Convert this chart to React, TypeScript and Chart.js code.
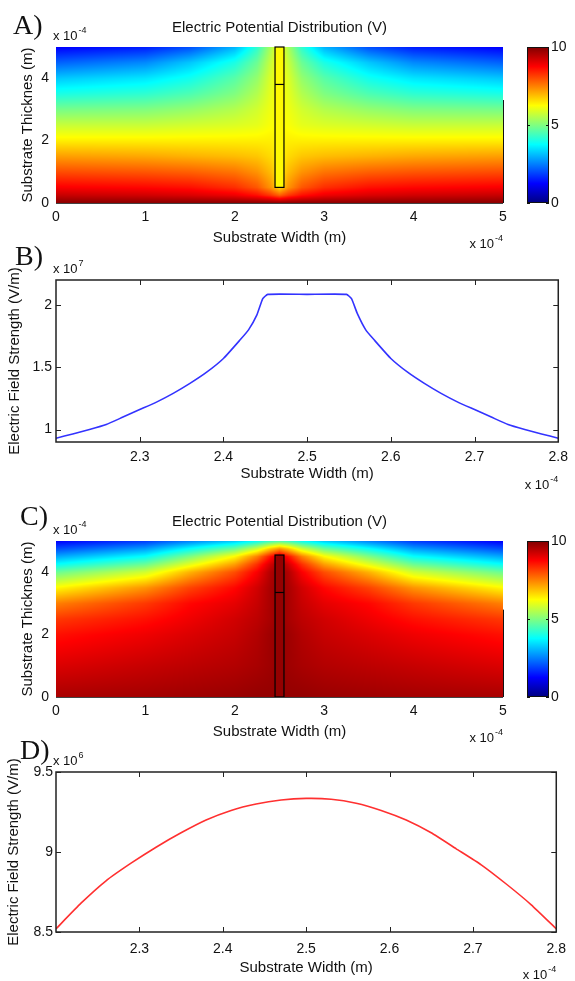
import React, { useEffect, useRef } from "react";
import { Chart, registerables } from "chart.js";

Chart.register(...registerables);

const SANS = "'Liberation Sans', Arial, Helvetica, sans-serif";
const SERIF = "'Liberation Serif', 'Times New Roman', serif";
const INK = "#111111";

// ---------- Panels A and C: potential maps (x, y in 1e-4 m; values in V)
const mapXTicks = [0, 1, 2, 3, 4, 5];
const mapYTicks = [0, 2, 4];
const colorbarTicks = [0, 5, 10];
const potGridX = [0, 1, 1.5, 2, 2.25, 2.4, 2.5, 2.6, 2.75, 3, 3.5, 4, 5];

const potAY = [5, 4.5, 4, 3.5, 3, 2.5, 2, 1.5, 1, 0.5, 0.25, 0];
const potA = [
  [1.2, 1.5, 2.0, 3.0, 4.2, 5.4, 6.3, 5.4, 4.2, 3.0, 2.0, 1.5, 1.2],
  [2.2, 2.6, 3.2, 4.0, 4.8, 5.7, 6.3, 5.7, 4.8, 4.0, 3.2, 2.6, 2.2],
  [3.2, 3.5, 3.9, 4.6, 5.2, 5.9, 6.3, 5.9, 5.2, 4.6, 3.9, 3.5, 3.2],
  [4.0, 4.2, 4.5, 5.0, 5.5, 6.0, 6.3, 6.0, 5.5, 5.0, 4.5, 4.2, 4.0],
  [4.9, 5.0, 5.2, 5.5, 5.8, 6.1, 6.3, 6.1, 5.8, 5.5, 5.2, 5.0, 4.9],
  [5.7, 5.7, 5.8, 5.9, 6.0, 6.2, 6.3, 6.2, 6.0, 5.9, 5.8, 5.7, 5.7],
  [6.4, 6.4, 6.4, 6.4, 6.4, 6.4, 6.3, 6.4, 6.4, 6.4, 6.4, 6.4, 6.4],
  [7.2, 7.1, 7.0, 6.9, 6.8, 6.6, 6.3, 6.6, 6.8, 6.9, 7.0, 7.1, 7.2],
  [8.0, 7.9, 7.8, 7.6, 7.3, 6.9, 6.4, 6.9, 7.3, 7.6, 7.8, 7.9, 8.0],
  [8.8, 8.7, 8.6, 8.3, 7.9, 7.3, 6.6, 7.3, 7.9, 8.3, 8.6, 8.7, 8.8],
  [9.3, 9.2, 9.1, 8.9, 8.6, 8.2, 7.8, 8.2, 8.6, 8.9, 9.1, 9.2, 9.3],
  [9.9, 9.9, 9.9, 9.9, 9.9, 9.9, 9.9, 9.9, 9.9, 9.9, 9.9, 9.9, 9.9],
];
const electrodeAX = [2.45, 2.55];
const electrodeAY = [0.5, 3.8, 5];
const electrodeAV = 6.3;
const edgeLineA = 3.3;

const potCY = [5, 4.75, 4.5, 4.25, 4, 3.5, 3, 2.5, 2, 1, 0];
const potC = [
  [1.2, 1.8, 2.5, 3.2, 3.8, 4.3, 4.5, 4.3, 3.8, 3.2, 2.5, 1.8, 1.2],
  [2.0, 2.8, 3.8, 4.8, 5.8, 6.8, 7.3, 6.8, 5.8, 4.8, 3.8, 2.8, 2.0],
  [2.9, 3.8, 5.0, 6.3, 7.5, 8.6, 9.3, 8.6, 7.5, 6.3, 5.0, 3.8, 2.9],
  [3.8, 4.8, 6.0, 7.2, 8.3, 9.2, 9.7, 9.2, 8.3, 7.2, 6.0, 4.8, 3.8],
  [4.8, 5.8, 7.0, 8.0, 8.8, 9.5, 9.8, 9.5, 8.8, 8.0, 7.0, 5.8, 4.8],
  [6.3, 7.3, 8.1, 8.7, 9.2, 9.6, 9.8, 9.6, 9.2, 8.7, 8.1, 7.3, 6.3],
  [7.5, 8.2, 8.7, 9.0, 9.3, 9.6, 9.8, 9.6, 9.3, 9.0, 8.7, 8.2, 7.5],
  [8.2, 8.6, 8.9, 9.2, 9.4, 9.6, 9.8, 9.6, 9.4, 9.2, 8.9, 8.6, 8.2],
  [8.6, 8.9, 9.1, 9.3, 9.5, 9.7, 9.8, 9.7, 9.5, 9.3, 9.1, 8.9, 8.6],
  [9.1, 9.3, 9.4, 9.5, 9.6, 9.7, 9.8, 9.7, 9.6, 9.5, 9.4, 9.3, 9.1],
  [9.6, 9.65, 9.7, 9.75, 9.8, 9.8, 9.8, 9.8, 9.8, 9.75, 9.7, 9.65, 9.6],
];
const electrodeCX = [2.45, 2.55];
const electrodeCY = [0, 3.35, 4.55];
const electrodeCV = 9.8;
const edgeLineC = 2.8;

// ---------- Panels B and D: field strength along the width (x in 1e-4 m)
const lineXTicks = [2.3, 2.4, 2.5, 2.6, 2.7, 2.8];

const fieldBX = [2.2, 2.22, 2.24, 2.26, 2.28, 2.3, 2.32, 2.34, 2.36, 2.38, 2.4, 2.42, 2.43, 2.44, 2.447, 2.453,
  2.5, 2.547, 2.553, 2.56, 2.57, 2.58, 2.6, 2.62, 2.64, 2.66, 2.68, 2.7, 2.72, 2.74, 2.76, 2.78, 2.8];
const fieldBY = [0.93, 0.965, 1.0, 1.04, 1.1, 1.16, 1.22, 1.29, 1.37, 1.46, 1.57, 1.72, 1.8, 1.92, 2.05, 2.085,
  2.085, 2.085, 2.05, 1.93, 1.8, 1.72, 1.57, 1.46, 1.37, 1.29, 1.22, 1.16, 1.1, 1.04, 1.0, 0.965, 0.93];
const fieldBTicks = [1, 1.5, 2];

const fieldDX = [2.2, 2.23, 2.26, 2.29, 2.32, 2.35, 2.38, 2.41, 2.44, 2.47, 2.5, 2.53, 2.56, 2.59, 2.62, 2.65,
  2.68, 2.71, 2.74, 2.77, 2.8];
const fieldDY = [8.52, 8.68, 8.82, 8.93, 9.03, 9.12, 9.2, 9.26, 9.3, 9.325, 9.335, 9.33, 9.305, 9.26, 9.2, 9.12,
  9.02, 8.92, 8.8, 8.67, 8.52];
const fieldDTicks = [8.5, 9, 9.5];

// ---------- helpers
function jet(v: number): [number, number, number] {
  const t = Math.max(0, Math.min(1, v / 10));
  const c = (z: number) => Math.round(255 * Math.max(0, Math.min(1, z)));
  return [c(1.5 - Math.abs(4 * t - 3)), c(1.5 - Math.abs(4 * t - 2)), c(1.5 - Math.abs(4 * t - 1))];
}
function jetCss(v: number) {
  const [r, g, b] = jet(v);
  return `rgb(${r},${g},${b})`;
}
function locate(arr: number[], v: number): [number, number] {
  for (let i = 0; i < arr.length - 1; i++) {
    const a = arr[i], b = arr[i + 1];
    if ((v - a) * (v - b) <= 0) return [i, b === a ? 0 : (v - a) / (b - a)];
  }
  const asc = arr[arr.length - 1] > arr[0];
  const last = arr[arr.length - 1];
  const beyond = asc ? v > last : v < last;
  return beyond ? [arr.length - 2, 1] : [0, 0];
}

function drawMultiplier(ctx: CanvasRenderingContext2D, x: number, baseline: number, exp: string, alignRight: boolean) {
  ctx.save();
  ctx.fillStyle = INK;
  ctx.textBaseline = "alphabetic";
  ctx.textAlign = "left";
  ctx.font = `13px ${SANS}`;
  const base = "x 10";
  const wb = ctx.measureText(base).width;
  ctx.font = `9px ${SANS}`;
  const we = ctx.measureText(exp).width;
  const start = alignRight ? x - wb - we - 1 : x;
  ctx.font = `13px ${SANS}`;
  ctx.fillText(base, start, baseline);
  ctx.font = `9px ${SANS}`;
  ctx.fillText(exp, start + wb + 1, baseline - 7);
  ctx.restore();
}

function panelText(letter: string, lx: number, ly: number, title: string | null, yExp: string, xExp: string, xGap: number) {
  return {
    id: "panelText",
    afterDraw(chart: any) {
      const { ctx, chartArea: a } = chart;
      ctx.save();
      ctx.fillStyle = INK;
      ctx.font = `28px ${SERIF}`;
      ctx.textAlign = "left";
      ctx.textBaseline = "alphabetic";
      ctx.fillText(letter, lx, ly);
      if (title) {
        ctx.font = `15px ${SANS}`;
        ctx.textAlign = "center";
        ctx.textBaseline = "middle";
        ctx.fillText(title, (a.left + a.right) / 2, a.top - 19);
      }
      ctx.restore();
      drawMultiplier(ctx, a.left - 3, a.top - 7, yExp, false);
      drawMultiplier(ctx, a.right, a.bottom + xGap, xExp, true);
    },
  };
}

function mapPlugin(gx: number[], gy: number[], grid: number[][], ex: number[], ey: number[], ev: number, edgeFrom: number) {
  return {
    id: "potentialMap",
    beforeDatasetsDraw(chart: any) {
      const { ctx, chartArea: a, scales } = chart;
      const xs = scales.x, ys = scales.y;
      const left = Math.round(a.left), top = Math.round(a.top);
      const w = Math.round(a.right) - left, h = Math.round(a.bottom) - top;
      const off = document.createElement("canvas");
      off.width = w;
      off.height = h;
      const octx = off.getContext("2d")!;
      const img = octx.createImageData(w, h);
      const cols: [number, number][] = [];
      for (let i = 0; i < w; i++) cols.push(locate(gx, xs.getValueForPixel(left + i + 0.5)));
      for (let j = 0; j < h; j++) {
        const [r, fy] = locate(gy, ys.getValueForPixel(top + j + 0.5));
        const r0 = grid[r], r1 = grid[r + 1];
        for (let i = 0; i < w; i++) {
          const [c, fx] = cols[i];
          const v = (1 - fy) * ((1 - fx) * r0[c] + fx * r0[c + 1]) + fy * ((1 - fx) * r1[c] + fx * r1[c + 1]);
          const [R, G, B] = jet(v);
          const k = (j * w + i) * 4;
          img.data[k] = R;
          img.data[k + 1] = G;
          img.data[k + 2] = B;
          img.data[k + 3] = 255;
        }
      }
      octx.putImageData(img, 0, 0);
      ctx.drawImage(off, left, top);

      // electrode
      const x0 = xs.getPixelForValue(ex[0]), x1 = xs.getPixelForValue(ex[1]);
      const yb = ys.getPixelForValue(ey[0]), ym = ys.getPixelForValue(ey[1]), yt = ys.getPixelForValue(ey[2]);
      ctx.save();
      ctx.fillStyle = jetCss(ev);
      ctx.fillRect(x0, yt, x1 - x0, yb - yt);
      ctx.strokeStyle = "#000";
      ctx.lineWidth = 1.2;
      ctx.strokeRect(x0, yt, x1 - x0, yb - yt);
      ctx.beginPath();
      ctx.moveTo(x0, ym);
      ctx.lineTo(x1, ym);
      ctx.stroke();
      // axis line at bottom and partial right edge
      ctx.strokeStyle = "#444";
      ctx.lineWidth = 1;
      ctx.beginPath();
      ctx.moveTo(a.left, a.bottom + 0.5);
      ctx.lineTo(a.right, a.bottom + 0.5);
      ctx.stroke();
      ctx.strokeStyle = "#111";
      ctx.beginPath();
      ctx.moveTo(a.right + 0.5, ys.getPixelForValue(edgeFrom));
      ctx.lineTo(a.right + 0.5, a.bottom);
      ctx.stroke();
      ctx.restore();
    },
  };
}

const framePlugin = {
  id: "frame",
  afterDatasetsDraw(chart: any) {
    const { ctx, chartArea: a, scales } = chart;
    const xs = scales.x, ys = scales.y;
    ctx.save();
    ctx.strokeStyle = "#222";
    ctx.lineWidth = 1.5;
    ctx.strokeRect(a.left, a.top, a.right - a.left, a.bottom - a.top);
    ctx.lineWidth = 1;
    ctx.beginPath();
    for (const t of xs.ticks) {
      const p = Math.round(xs.getPixelForValue(t.value)) + 0.5;
      ctx.moveTo(p, a.bottom);
      ctx.lineTo(p, a.bottom - 5);
      ctx.moveTo(p, a.top);
      ctx.lineTo(p, a.top + 5);
    }
    for (const t of ys.ticks) {
      const p = Math.round(ys.getPixelForValue(t.value)) + 0.5;
      ctx.moveTo(a.left, p);
      ctx.lineTo(a.left + 5, p);
      ctx.moveTo(a.right, p);
      ctx.lineTo(a.right - 5, p);
    }
    ctx.stroke();
    ctx.restore();
  },
};

const colorbarPlugin = {
  id: "colorbar",
  beforeDatasetsDraw(chart: any) {
    const { ctx, chartArea: a, scales } = chart;
    const ys = scales.y;
    const g = ctx.createLinearGradient(0, ys.getPixelForValue(0), 0, ys.getPixelForValue(10));
    for (const v of [0, 1.25, 3.75, 5, 6.25, 8.75, 10]) g.addColorStop(v / 10, jetCss(v));
    ctx.save();
    ctx.fillStyle = g;
    ctx.fillRect(a.left, a.top, a.right - a.left, a.bottom - a.top);
    ctx.strokeStyle = "#111";
    ctx.lineWidth = 1;
    ctx.strokeRect(a.left + 0.5, a.top + 0.5, a.right - a.left - 1, a.bottom - a.top - 1);
    ctx.beginPath();
    for (const t of ys.ticks) {
      const p = Math.round(ys.getPixelForValue(t.value)) + 0.5;
      ctx.moveTo(a.left, p);
      ctx.lineTo(a.left + 3, p);
      ctx.moveTo(a.right, p);
      ctx.lineTo(a.right - 3, p);
    }
    ctx.stroke();
    ctx.restore();
  },
};

const tickFont = { family: SANS, size: 14 };
const titleFont = { family: SANS, size: 15 };
const noGrid = { display: false, drawTicks: false, tickLength: 0 };

function baseOptions(padding: any) {
  return {
    responsive: false,
    animation: false as const,
    devicePixelRatio: 1,
    events: [] as any[],
    layout: { padding },
    plugins: { legend: { display: false }, tooltip: { enabled: false }, title: { display: false } },
  };
}

function mapConfig(grid: number[][], gy: number[], ex: number[], ey: number[], ev: number, edgeFrom: number, letter: string, lx: number, ly: number, title: string) {
  return {
    type: "scatter" as const,
    data: { datasets: [] as any[] },
    options: {
      ...baseOptions({ left: 0, right: 72, top: 47, bottom: 0 }),
      scales: {
        x: {
          type: "linear" as const, min: 0, max: 5,
          grid: noGrid, border: { display: false },
          afterBuildTicks: (s: any) => { s.ticks = mapXTicks.map((v) => ({ value: v })); },
          afterFit: (s: any) => { s.height = 49; },
          ticks: { padding: 6, color: INK, font: tickFont, maxRotation: 0, autoSkip: false, callback: (v: any) => String(v) },
          title: { display: true, text: "Substrate Width (m)", color: INK, font: titleFont, padding: { top: 0, bottom: 5 } },
        },
        y: {
          type: "linear" as const, min: 0, max: 5,
          grid: noGrid, border: { display: false },
          afterBuildTicks: (s: any) => { s.ticks = mapYTicks.map((v) => ({ value: v })); },
          afterFit: (s: any) => { s.width = 56; },
          ticks: { padding: 7, color: INK, font: tickFont, callback: (v: any) => String(v) },
          title: { display: true, text: "Substrate Thicknes (m)", color: INK, font: titleFont, padding: { top: 19, bottom: 0 } },
        },
      },
    },
    plugins: [mapPlugin(potGridX, gy, grid, ex, ey, ev, edgeFrom), panelText(letter, lx, ly, title, "-4", "-4", 45)],
  };
}

function colorbarConfig() {
  return {
    type: "scatter" as const,
    data: { datasets: [] as any[] },
    options: {
      ...baseOptions({ left: 27, right: 0, top: 47, bottom: 49 }),
      scales: {
        x: { type: "linear" as const, display: false, min: 0, max: 1 },
        y: {
          type: "linear" as const, position: "right" as const, min: 0, max: 10,
          grid: noGrid, border: { display: false },
          afterBuildTicks: (s: any) => { s.ticks = colorbarTicks.map((v) => ({ value: v })); },
          afterFit: (s: any) => { s.width = 26; },
          ticks: { padding: 2, color: INK, font: tickFont, callback: (v: any) => String(v) },
        },
      },
    },
    plugins: [colorbarPlugin],
  };
}

function lineConfig(xsData: number[], ysData: number[], color: string, yMin: number, yMax: number, yTicks: number[],
  pad: any, xHeight: number, xTickPad: number, xTitlePad: number, yTickPad: number, yTitlePad: number,
  letter: string, lx: number, ly: number, yExp: string) {
  return {
    type: "line" as const,
    data: {
      datasets: [{
        data: xsData.map((x, i) => ({ x, y: ysData[i] })),
        borderColor: color, borderWidth: 1.6, pointRadius: 0, tension: 0.15, fill: false,
      }],
    },
    options: {
      ...baseOptions(pad),
      scales: {
        x: {
          type: "linear" as const, min: 2.2, max: 2.8,
          grid: noGrid, border: { display: false },
          afterBuildTicks: (s: any) => { s.ticks = lineXTicks.map((v) => ({ value: v })); },
          afterFit: (s: any) => { s.height = xHeight; },
          ticks: { padding: xTickPad, color: INK, font: tickFont, maxRotation: 0, autoSkip: false, callback: (v: any) => String(v) },
          title: { display: true, text: "Substrate Width (m)", color: INK, font: titleFont, padding: { top: 0, bottom: xTitlePad } },
        },
        y: {
          type: "linear" as const, min: yMin, max: yMax,
          grid: noGrid, border: { display: false },
          afterBuildTicks: (s: any) => { s.ticks = yTicks.map((v) => ({ value: v })); },
          afterFit: (s: any) => { s.width = 56; },
          ticks: { padding: yTickPad, color: INK, font: tickFont, callback: (v: any) => String(v) },
          title: { display: true, text: "Electric Field Strength (V/m)", color: INK, font: titleFont, padding: { top: yTitlePad, bottom: 0 } },
        },
      },
    },
    plugins: [framePlugin, panelText(letter, lx, ly, null, yExp, "-4", 47)],
  };
}

export default function App() {
  const refA = useRef<HTMLCanvasElement>(null);
  const refCbA = useRef<HTMLCanvasElement>(null);
  const refB = useRef<HTMLCanvasElement>(null);
  const refC = useRef<HTMLCanvasElement>(null);
  const refCbC = useRef<HTMLCanvasElement>(null);
  const refD = useRef<HTMLCanvasElement>(null);

  useEffect(() => {
    const charts: Chart[] = [];
    charts.push(new Chart(refA.current!, mapConfig(potA, potAY, electrodeAX, electrodeAY, electrodeAV, edgeLineA, "A)", 13, 34, "Electric Potential Distribution (V)") as any));
    charts.push(new Chart(refCbA.current!, colorbarConfig() as any));
    charts.push(new Chart(refB.current!, lineConfig(fieldBX, fieldBY, "#3333ff", 0.9, 2.2, fieldBTicks,
      { left: 0, right: 12, top: 35, bottom: 0 }, 53, 7, 12, 4, 6, "B)", 15, 20, "7") as any));
    charts.push(new Chart(refC.current!, mapConfig(potC, potCY, electrodeCX, electrodeCY, electrodeCV, edgeLineC, "C)", 20, 31, "Electric Potential Distribution (V)") as any));
    charts.push(new Chart(refCbC.current!, colorbarConfig() as any));
    charts.push(new Chart(refD.current!, lineConfig(fieldDX, fieldDY, "#ff3030", 8.5, 9.5, fieldDTicks,
      { left: 0, right: 12, top: 37, bottom: 0 }, 49, 9, 4, 3, 5, "D)", 20, 24, "6") as any));
    return () => charts.forEach((c) => c.destroy());
  }, []);

  const cv = (left: number, top: number, w: number, h: number): React.CSSProperties => ({
    position: "absolute", left, top, width: w, height: h, display: "block",
  });

  return (
    <div style={{ position: "absolute", left: 0, top: 0, width: 575, height: 981, background: "#fff", overflow: "hidden" }}>
      <canvas ref={refA} width={575} height={252} style={cv(0, 0, 575, 252)} />
      <canvas ref={refCbA} width={75} height={252} style={cv(500, 0, 75, 252)} />
      <canvas ref={refB} width={575} height={250} style={cv(0, 245, 575, 250)} />
      <canvas ref={refC} width={575} height={252} style={cv(0, 494, 575, 252)} />
      <canvas ref={refCbC} width={75} height={252} style={cv(500, 494, 75, 252)} />
      <canvas ref={refD} width={575} height={246} style={cv(0, 735, 575, 246)} />
    </div>
  );
}
